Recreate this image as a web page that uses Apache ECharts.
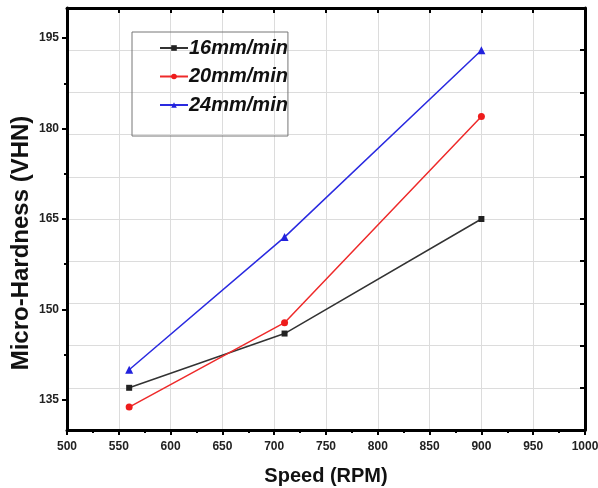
<!DOCTYPE html>
<html><head><meta charset="utf-8">
<script src="https://cdn.jsdelivr.net/npm/echarts@6/dist/echarts.min.js"></script>
<style>html,body{margin:0;padding:0;background:#fff}#c{width:598px;height:488px}</style>
</head><body><div id="c"></div>
<script>
const speeds = [560, 710, 900];
const s16 = [137, 146, 165];
const s20 = [133.8, 147.8, 182];
const s24 = [140, 162, 193];
const seriesNames = ['16mm/min', '20mm/min', '24mm/min'];
const yMajor = [135, 150, 165, 180, 195];
const yMinor = [142.5, 157.5, 172.5, 187.5];

const pair = v => speeds.map((x, i) => [x, v[i]]);
const font = 'Liberation Sans, Arial, sans-serif';
const lbl = {fontFamily: font, fontWeight: 'bold', fontSize: 12, color: '#222'};

const chart = echarts.init(document.getElementById('c'));
chart.setOption({
  animation: false,
  grid: {left: 67, right: 13, top: 8, bottom: 58, outerBoundsMode: 'none', containLabel: false},
  legend: {
    orient: 'vertical', left: 132, top: 32,
    padding: [6, 0, 21, 27],
    borderColor: '#777', borderWidth: 1,
    itemWidth: 28, itemHeight: 7, itemGap: 8.5,
    textStyle: {fontFamily: font, fontWeight: 'bold', fontStyle: 'italic', fontSize: 20, lineHeight: 20, color: '#111', padding: [0,0,0,-4]},
    data: seriesNames
  },
  xAxis: [{
    type: 'value', min: 500, max: 1000, interval: 50, position: 'bottom',
    name: 'Speed (RPM)', nameLocation: 'middle', nameGap: 36, nameMoveOverlap: false,
    nameTextStyle: {fontFamily: font, fontWeight: 'bold', fontSize: 20, color: '#111'},
    axisLine: {show: true, lineStyle: {color: '#000', width: 3}},
    axisTick: {show: true, inside: false, length: 5, lineStyle: {color: '#000', width: 2}},
    minorTick: {show: true, splitNumber: 2, length: 3, lineStyle: {color: '#000', width: 2}},
    axisLabel: Object.assign({margin: 11, formatter: v => String(v)}, lbl),
    splitLine: {show: true, lineStyle: {color: '#dcdcdc', width: 1}}
  }, {
    type: 'value', min: 500, max: 1000, interval: 50, position: 'top',
    axisLine: {show: true, lineStyle: {color: '#000', width: 3}},
    axisTick: {show: true, inside: true, length: 5, lineStyle: {color: '#000', width: 2}},
    axisLabel: {show: false}, splitLine: {show: false}
  }],
  yAxis: [{
    type: 'value', min: 130, max: 200, position: 'left',
    name: 'Micro-Hardness (VHN)', nameLocation: 'middle', nameGap: 34, nameMoveOverlap: false,
    nameTextStyle: {fontFamily: font, fontWeight: 'bold', fontSize: 24, color: '#111', padding: [0, 48, 0, 0]},
    axisLine: {show: true, lineStyle: {color: '#000', width: 3}},
    axisTick: {show: true, inside: false, length: 5, customValues: yMajor, lineStyle: {color: '#000', width: 2}},
    axisLabel: Object.assign({margin: 8, customValues: yMajor}, lbl),
    splitLine: {show: false}
  }, {
    type: 'value', min: 130, max: 200, interval: 7, position: 'right',
    axisLine: {show: true, lineStyle: {color: '#000', width: 3}},
    axisTick: {show: true, inside: true, length: 5, lineStyle: {color: '#000', width: 2}},
    axisLabel: {show: false},
    splitLine: {show: true, lineStyle: {color: '#dcdcdc', width: 1}}
  }, {
    type: 'value', min: 130, max: 200, position: 'left', offset: 0,
    axisLine: {show: false},
    axisTick: {show: true, inside: false, length: 3, customValues: yMinor, lineStyle: {color: '#000', width: 2}},
    axisLabel: {show: false, customValues: yMinor},
    splitLine: {show: false}
  }],
  series: [
    {name: seriesNames[0], type: 'line', data: pair(s16), symbol: 'rect', symbolSize: 6,
     itemStyle: {color: '#222'}, lineStyle: {color: '#333', width: 1.5}},
    {name: seriesNames[1], type: 'line', data: pair(s20), symbol: 'circle', symbolSize: 7,
     itemStyle: {color: '#ee1c1c'}, lineStyle: {color: '#ee2a2a', width: 1.5}},
    {name: seriesNames[2], type: 'line', data: pair(s24), symbol: 'triangle', symbolSize: 8,
     itemStyle: {color: '#2222dd'}, lineStyle: {color: '#2a2ae0', width: 1.5}}
  ]
});
</script></body></html>
